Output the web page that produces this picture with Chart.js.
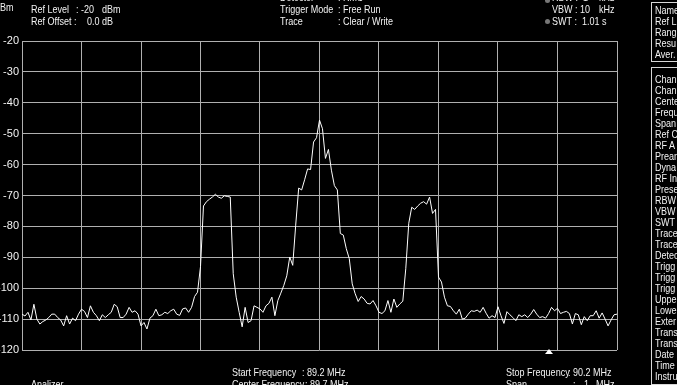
<!DOCTYPE html>
<html>
<head>
<meta charset="utf-8">
<script src="https://cdn.jsdelivr.net/npm/chart.js@4/dist/chart.umd.min.js"></script>
<style>
  html, body { margin: 0; padding: 0; background: #000; overflow: hidden; }
  #wrap { position: relative; width: 677px; height: 385px; background: #000; }
  canvas { position: absolute; left: 0; top: 0; }
  .t { position: absolute; color: #f2f2f2; font: 11px "Liberation Sans", Arial, sans-serif; white-space: pre; line-height: 12px; transform: scaleX(0.82); transform-origin: 0 0; }
  .box { position: absolute; border: 1px solid #d8d8d8; }
  .dot { position: absolute; width: 5px; height: 5px; border-radius: 50%; background: #777; }
  .tri { position: absolute; width: 0; height: 0; border-left: 4px solid transparent; border-right: 4px solid transparent; border-bottom: 5px solid #fff; }
</style>
</head>
<body>
<div id="wrap">
  <canvas id="spectrum" width="677" height="385"></canvas>
</div>
<script>
// Sweep settings (MHz) and level axis (dBm)
const startFreq = 89.2;
const stopFreq = 90.2;
const yTicks = [-20, -30, -40, -50, -60, -70, -80, -90, -100, -110, -120];

const levels = [
  -108.4, -109.0, -107.8, -110.3, -105.2, -110.0, -111.6, -110.8, -110.3, -109.5,
  -108.4, -108.4, -109.5, -110.3, -112.2, -108.9, -111.6, -109.7, -110.5, -108.4,
  -106.8, -107.5, -109.5, -105.7, -107.8, -108.9, -110.5, -108.6, -109.5, -108.6,
  -107.8, -105.2, -106.0, -109.5, -109.5, -108.4, -106.2, -107.8, -107.3, -108.4,
  -112.2, -111.1, -113.2, -109.7, -108.9, -106.8, -108.9, -108.6, -107.8, -108.2,
  -107.3, -106.8, -108.4, -108.8, -106.7, -106.4, -107.8, -106.2, -102.7, -101.3,
  -93.0, -73.4, -72.0, -71.2, -70.5, -69.6, -70.5, -70.9, -70.1, -70.3,
  -70.5, -95.3, -102.9, -107.8, -112.5, -106.2, -111.1, -110.5, -105.7, -106.2,
  -106.7, -107.8, -105.7, -104.9, -102.9, -108.9, -104.0, -101.6, -99.1, -96.0,
  -89.9, -92.6, -79.6, -67.6, -68.2, -64.9, -61.4, -61.6, -52.7, -51.3,
  -45.6, -48.4, -58.0, -55.1, -61.8, -66.8, -68.2, -82.3, -82.8, -87.2,
  -90.4, -98.6, -101.8, -104.3, -102.7, -103.5, -104.9, -105.1, -104.0, -105.7,
  -107.8, -108.2, -107.3, -104.0, -107.8, -103.5, -106.2, -105.1, -104.2, -93.7,
  -79.0, -73.8, -74.5, -73.4, -72.5, -72.0, -72.8, -70.5, -75.8, -74.5,
  -96.4, -98.0, -102.9, -105.7, -105.9, -107.3, -108.4, -106.8, -110.0, -109.7,
  -108.4, -107.3, -107.5, -107.1, -107.8, -106.2, -108.1, -109.7, -108.9, -109.5,
  -106.0, -108.9, -111.4, -107.6, -108.6, -109.5, -110.5, -108.6, -109.2, -108.6,
  -109.5, -108.4, -106.9, -108.4, -109.5, -109.2, -109.7, -108.2, -106.2, -107.3,
  -106.5, -108.2, -107.8, -107.5, -108.2, -111.6, -108.2, -108.6, -111.8, -109.2,
  -110.5, -108.9, -108.9, -107.3, -109.7, -108.0, -110.0, -112.2, -110.3, -108.6,
  -108.4
];

// Sweep point frequencies, evenly spaced from start to stop
const step = (stopFreq - startFreq) / (levels.length - 1);
const points = levels.map((v, i) => ({ x: startFreq + i * step, y: v }));

const gridColor = '#b0b0b0';

new Chart(document.getElementById('spectrum').getContext('2d'), {
  type: 'line',
  data: {
    datasets: [{
      data: points,
      borderColor: '#ffffff',
      borderWidth: 1,
      pointRadius: 0,
      tension: 0,
      fill: false
    }]
  },
  options: {
    responsive: false,
    animation: false,
    events: [],
    layout: { padding: { top: 41, right: 60, bottom: 35, left: 0 } },
    plugins: { legend: { display: false }, tooltip: { enabled: false } },
    scales: {
      x: {
        type: 'linear',
        min: startFreq,
        max: stopFreq,
        ticks: { display: false, stepSize: 0.1 },
        grid: { color: gridColor, lineWidth: 1, drawTicks: false },
        border: { display: false },
        afterFit: s => { s.height = 0; }
      },
      y: {
        min: -120,
        max: -20,
        afterBuildTicks: s => { s.ticks = yTicks.map(v => ({ value: v })); },
        ticks: {
          color: '#f2f2f2',
          padding: 3,
          font: { family: 'Liberation Sans', size: 11 }
        },
        grid: { color: gridColor, lineWidth: 1, drawTicks: false },
        border: { display: false },
        afterFit: s => { s.width = 22; }
      }
    }
  }
});

// Instrument readout text around the trace
const wrap = document.getElementById('wrap');
function txt(x, y, s) {
  const d = document.createElement('div');
  d.className = 't';
  d.style.left = x + 'px';
  d.style.top = (y - 6) + 'px';
  d.textContent = s;
  wrap.appendChild(d);
}

txt(-5, 7, 'dBm');
txt(31, 9, 'Ref Level'); txt(76, 9, ': -20'); txt(102, 9, 'dBm');
txt(31, 21, 'Ref Offset'); txt(74, 21, ':'); txt(87, 21, '0.0 dB');
txt(280, -3, 'Detector'); txt(338, -3, ':'); txt(343, -3, 'RMS');
txt(280, 9, 'Trigger Mode'); txt(338, 9, ':'); txt(343, 9, 'Free Run');
txt(280, 21, 'Trace'); txt(338, 21, ':'); txt(343, 21, 'Clear / Write');
txt(552, -3, 'RBW :  1'); txt(599, -3, 'kHz');
txt(552, 9, 'VBW : 10'); txt(599, 9, 'kHz');
txt(552, 21, 'SWT :  1.01 s');

txt(232, 372, 'Start Frequency'); txt(302, 372, ': 89.2 MHz');
txt(232, 384, 'Center Frequency'); txt(305, 384, ': 89.7 MHz');
txt(31, 384, 'Analizer');
txt(506, 372, 'Stop Frequency'); txt(568, 372, ': 90.2 MHz');
txt(506, 384, 'Span'); txt(573, 384, ':'); txt(584, 384, '1'); txt(596, 384, 'MHz');

// Right-hand parameter panels
const box1 = document.createElement('div');
box1.className = 'box';
Object.assign(box1.style, { left: '651px', top: '2px', width: '40px', height: '58px' });
wrap.appendChild(box1);
const box2 = document.createElement('div');
box2.className = 'box';
Object.assign(box2.style, { left: '651px', top: '67px', width: '40px', height: '316px' });
wrap.appendChild(box2);

const panel1 = ['Name', 'Ref L', 'Rang', 'Resu', 'Aver.'];
panel1.forEach((s, i) => txt(655, 10 + i * 11, s));
const panel2 = ['Chan', 'Chan', 'Cente', 'Frequ', 'Span', 'Ref C', 'RF A', 'Prear', 'Dyna',
  'RF In', 'Prese', 'RBW', 'VBW', 'SWT', 'Trace', 'Trace', 'Detec', 'Trigg', 'Trigg', 'Trigg',
  'Uppe', 'Lowe', 'Exter', 'Trans', 'Trans', 'Date', 'Time', 'Instru'];
panel2.forEach((s, i) => txt(655, 79 + i * 11, s));

[0, 21].forEach(y => {
  const d = document.createElement('div');
  d.className = 'dot';
  d.style.left = '545px';
  d.style.top = (y - 2) + 'px';
  wrap.appendChild(d);
});

const tri = document.createElement('div');
tri.className = 'tri';
tri.style.left = '545px';
tri.style.top = '349px';
wrap.appendChild(tri);
</script>
</body>
</html>
